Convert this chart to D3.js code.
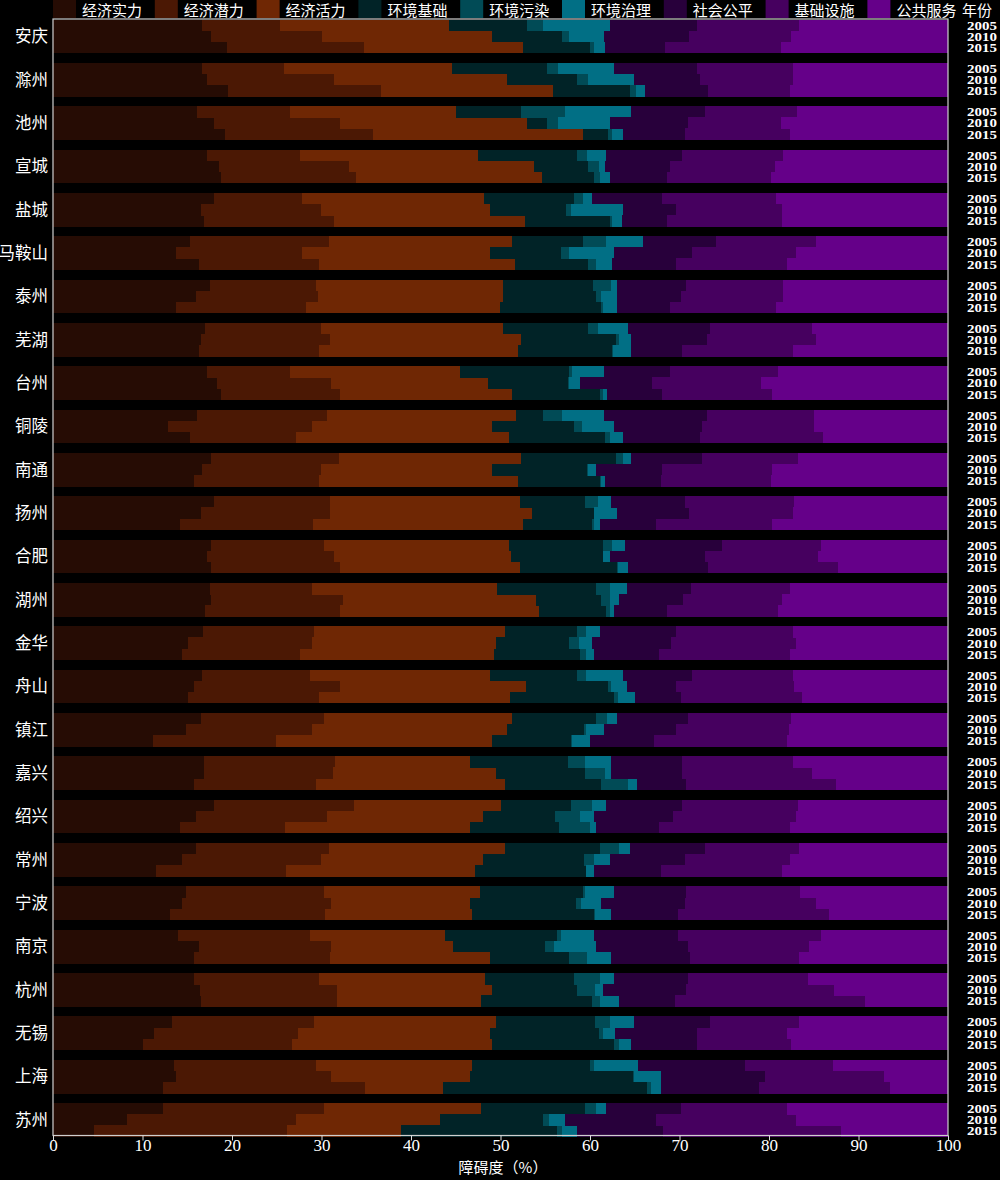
<!DOCTYPE html>
<html><head><meta charset="utf-8">
<script src="https://cdn.jsdelivr.net/npm/d3@7"></script>
<style>body{margin:0;background:#000;}svg{display:block;}</style>
</head><body>
<svg id="chart" width="1000" height="1180"></svg>
<script>
const cities = ["安庆","滁州","池州","宣城","盐城","马鞍山","泰州","芜湖","台州","铜陵","南通","扬州","合肥","湖州","金华","舟山","镇江","嘉兴","绍兴","常州","宁波","南京","杭州","无锡","上海","苏州"];
const years = ["2005","2010","2015"];
const indicators = ["经济实力","经济潜力","经济活力","环境基础","环境污染","环境治理","社会公平","基础设施","公共服务"];
const xTicks = [0,10,20,30,40,50,60,70,80,90,100];

// values per city: [2005, 2010, 2015]
const jjsl = [16.7,17.6,19.4, 16.7,17.2,19.6, 16.1,18.0,19.2, 17.2,18.5,18.8, 18.0,16.5,16.9, 15.3,13.7,16.3, 17.5,16.0,13.7, 17.0,16.5,16.3, 17.2,18.3,18.8, 16.1,12.9,15.3, 17.7,16.7,15.8, 18.0,16.5,14.2, 17.7,17.2,17.6, 17.5,17.7,17.0, 16.8,15.1,14.4, 16.7,15.8,15.1, 16.5,14.9,11.2, 16.9,16.9,15.7, 18.0,16.0,14.2, 16.0,14.4,11.5, 14.9,14.4,13.1, 14.0,16.3,15.8, 15.7,16.4,16.5, 13.3,11.3,10.1, 13.5,13.7,12.3, 12.3,8.3,4.6];
const jjql = [8.7,12.4,15.4, 9.1,14.2,17.0, 10.4,14.1,16.6, 10.4,14.6,15.1, 9.8,13.4,14.5, 15.5,14.1,13.4, 11.9,13.6,14.6, 12.9,14.4,13.4, 9.3,12.8,13.3, 14.5,16.0,11.8, 14.2,13.2,13.9, 13.0,14.5,14.8, 12.6,14.2,14.5, 11.4,14.7,15.1, 12.4,13.8,13.2, 12.0,16.3,14.6, 13.8,14.0,13.7, 14.6,14.4,13.7, 15.6,14.6,11.7, 14.8,15.5,14.5, 15.4,16.7,17.3, 14.7,14.8,15.1, 14.0,15.3,15.2, 15.9,16.1,16.6, 15.9,17.4,22.6, 18.0,18.8,21.6];
const jjhl = [18.9,19.1,17.7, 18.8,19.3,19.3, 18.5,20.9,23.4, 19.9,20.6,20.7, 20.4,18.9,21.3, 20.5,21.0,21.9, 20.9,20.7,21.6, 20.4,21.4,22.2, 19.0,17.5,19.2, 21.1,20.2,23.8, 20.4,19.2,22.2, 21.2,22.5,23.5, 20.6,19.8,20.1, 20.7,21.6,22.2, 21.3,20.6,21.7, 20.1,20.8,21.4, 21.0,21.8,24.2, 15.1,18.2,21.1, 16.4,17.4,20.7, 19.7,18.1,21.2, 17.4,15.5,16.4, 15.1,13.6,17.9, 18.6,17.3,16.1, 20.3,21.4,22.4, 17.4,15.5,8.7, 17.5,16.1,12.7];
const hjjc = [8.7,7.8,7.5, 10.6,7.9,8.6, 7.3,2.2,2.8, 11.1,6.1,5.9, 10.0,8.5,9.5, 7.9,8.0,8.2, 10.0,10.4,11.3, 9.5,10.6,10.6, 12.2,8.9,9.8, 3.0,9.1,10.8, 10.6,10.6,9.2, 7.2,6.9,7.7, 10.5,10.2,10.8, 11.1,7.2,7.5, 8.1,8.2,9.6, 9.8,9.1,11.6, 9.4,8.6,8.8, 10.9,9.9,10.7, 7.9,8.1,9.9, 10.6,11.3,12.3, 11.5,11.8,13.6, 12.5,10.3,8.9, 9.9,9.6,12.4, 11.1,12.2,13.6, 13.2,18.2,22.8, 11.6,11.5,17.4];
const hjwr = [1.7,0.7,0.4, 1.2,1.2,0.6, 4.9,1.2,0.5, 1.1,1.2,0.6, 1.0,0.6,0.3, 2.6,0.9,0.9, 2.0,0.5,0.2, 1.1,0.3,0.1, 0.3,0.2,0.4, 2.2,0.9,0.5, 0.8,0.1,0.1, 1.5,0.1,0.2, 1.1,0.1,0.1, 1.5,1.0,0.4, 0.9,1.1,0.6, 0.9,0.3,0.4, 1.2,0.2,0.1, 1.9,2.3,3.1, 2.3,2.8,3.5, 2.1,1.1,0.1, 0.2,0.6,0.2, 0.5,1.0,2.0, 2.9,2.0,0.9, 1.6,0.5,0.5, 0.5,0.1,0.4, 1.3,0.7,0.6];
const hjzl = [7.5,4.0,1.3, 6.3,5.1,1.0, 7.4,5.8,1.2, 2.1,0.7,1.1, 1.0,5.8,1.1, 4.1,5.0,1.8, 0.7,1.8,1.6, 3.4,1.4,2.0, 3.6,1.2,0.4, 4.7,3.6,1.5, 0.9,0.9,0.5, 1.4,2.5,0.7, 1.4,0.7,1.2, 1.9,1.0,0.5, 1.6,1.4,0.9, 4.2,1.8,1.9, 1.1,2.1,2.0, 2.9,0.6,1.0, 1.6,1.5,0.7, 1.3,1.8,0.8, 3.3,2.2,1.7, 3.6,4.7,2.7, 1.6,0.8,2.1, 2.7,1.3,1.4, 4.9,3.0,1.1, 1.1,1.8,1.7];
const shgp = [9.8,9.5,6.7, 9.3,7.4,7.1, 8.2,8.7,6.9, 8.5,7.2,6.4, 7.9,5.9,5.0, 8.2,8.7,7.1, 7.7,7.2,5.9, 9.1,8.5,5.7, 7.3,8.0,6.2, 11.5,9.8,8.6, 7.9,7.3,6.2, 8.3,8.1,6.3, 10.9,10.6,8.9, 7.2,7.2,5.9, 8.5,8.9,7.3, 7.7,5.5,5.2, 7.9,8.0,7.1, 8.0,8.0,5.4, 8.5,8.9,7.0, 8.3,8.4,7.5, 8.0,9.4,7.5, 9.4,10.2,8.8, 8.2,9.3,6.3, 8.5,9.2,7.4, 11.9,11.7,11.0, 8.4,10.2,9.6];
const jcss = [11.3,11.4,12.9, 10.7,10.4,9.1, 10.3,10.4,11.7, 11.3,11.8,11.6, 12.7,11.8,12.8, 11.1,11.6,12.4, 10.9,11.4,11.9, 11.4,12.1,12.4, 12.1,12.2,12.2, 11.9,12.5,13.7, 10.7,12.3,12.3, 12.2,11.6,12.9, 11.0,12.7,14.5, 11.0,11.0,12.4, 13.1,13.9,14.6, 11.3,13.2,13.5, 11.6,12.6,14.9, 12.4,14.5,16.8, 12.9,13.7,14.6, 10.6,11.7,13.5, 12.8,14.6,16.9, 16.0,13.6,12.1, 13.5,16.6,21.2, 10.0,10.0,10.5, 9.8,13.3,14.6, 11.8,15.6,19.8];
const ggfw = [16.7,17.5,18.7, 17.3,17.3,17.7, 16.9,18.7,17.7, 18.4,19.3,19.8, 19.2,18.6,18.6, 14.8,17.0,18.0, 18.4,18.4,19.2, 15.2,14.8,17.3, 19.0,20.9,19.7, 15.0,15.0,14.0, 16.8,19.7,19.8, 17.2,17.3,19.7, 14.2,14.5,12.3, 17.7,18.6,19.0, 17.3,17.0,17.7, 17.3,17.2,16.3, 17.5,17.8,18.0, 17.3,15.2,12.5, 16.8,17.0,17.7, 16.6,17.7,18.6, 16.5,14.8,13.3, 14.2,15.5,16.7, 15.6,12.7,9.3, 16.6,18.0,17.5, 12.9,7.1,6.5, 18.0,17.0,12.0];

const seriesValues = [jjsl, jjql, jjhl, hjjc, hjwr, hjzl, shgp, jcss, ggfw];
const colors = ["#260c04","#4b1804","#6f2704","#012327","#014b56","#016f85","#28003b","#46005f","#650089"];

const rows = [];
cities.forEach((c, i) => years.forEach((yr, j) => {
  const r = {city: c, year: yr};
  indicators.forEach((k, s) => r[k] = seriesValues[s][i*3 + j]);
  rows.push(r);
}));

const svg = d3.select("#chart");
svg.append("rect").attr("width",1000).attr("height",1180).attr("fill","#000");

const x = d3.scaleLinear().domain([0,100]).range([53,948]);
const yCity = d3.scaleBand().domain(cities).range([19.5,1136.5]).paddingInner(0.23).paddingOuter(0);
const yYear = d3.scaleBand().domain(years).range([0, yCity.bandwidth()]);
const color = d3.scaleOrdinal().domain(indicators).range(colors);

const stacked = d3.stack().keys(indicators)(rows);

svg.append("g").selectAll("g").data(stacked).join("g")
  .attr("fill", d => color(d.key))
  .selectAll("rect").data(d => d).join("rect")
  .attr("x", d => x(d[0]))
  .attr("width", d => x(d[1]) - x(d[0]))
  .attr("y", d => yCity(d.data.city) + yYear(d.data.year))
  .attr("height", yYear.bandwidth() + 0.4)
  .attr("shape-rendering","crispEdges");

// frame
svg.append("rect").attr("x",53).attr("y",19).attr("width",895).attr("height",1116.5)
  .attr("fill","none").attr("stroke","#cfcfcf").attr("stroke-width",1.2);

// x axis
const ax = svg.append("g").attr("transform","translate(0,1135.5)")
  .call(d3.axisBottom(x).tickValues(xTicks).tickSize(5).tickFormat(d3.format("d")));
ax.select(".domain").remove();
ax.selectAll(".tick line").attr("stroke","#dddddd");
ax.selectAll(".tick text").attr("fill","#fff").attr("font-family","'Liberation Serif', serif")
  .attr("font-size",17).attr("dy","0.62em").attr("y",5);

svg.append("text").attr("x",503).attr("y",1173).attr("text-anchor","middle")
  .attr("fill","#fff").attr("font-family","'Noto Sans CJK SC', sans-serif").attr("font-size",15)
  .text("障碍度（%）");

// city labels
svg.append("g").selectAll("text").data(cities).join("text")
  .attr("x",48).attr("y", d => yCity(d) + yCity.bandwidth()/2 + 6)
  .attr("text-anchor","end").attr("fill","#fff")
  .attr("font-family","'Noto Sans CJK SC', sans-serif").attr("font-size",16.5)
  .text(d => d);

// year labels
const yl = [];
cities.forEach(c => years.forEach(yr => yl.push({c, yr})));
svg.append("g").selectAll("text").data(yl).join("text")
  .attr("x",967).attr("y", d => yCity(d.c) + yYear(d.yr) + yYear.bandwidth()/2 + 4.5)
  .attr("fill","#fff").attr("font-family","'Liberation Serif', serif").attr("font-weight","bold")
  .attr("font-size",13.5).attr("textLength",30).attr("lengthAdjust","spacingAndGlyphs")
  .text(d => d.yr);

// legend
const lg = svg.append("g").selectAll("g").data(indicators).join("g")
  .attr("transform", (d,i) => `translate(${53 + i*101.8},0)`);
lg.append("rect").attr("width",23).attr("height",18).attr("fill", d => color(d));
lg.append("text").attr("x",29).attr("y",16).attr("fill","#fff")
  .attr("font-family","'Noto Sans CJK SC', sans-serif").attr("font-size",15).text(d => d);
svg.append("text").attr("x",962).attr("y",16).attr("fill","#fff")
  .attr("font-family","'Noto Sans CJK SC', sans-serif").attr("font-size",15).text("年份");
</script>
</body></html>
